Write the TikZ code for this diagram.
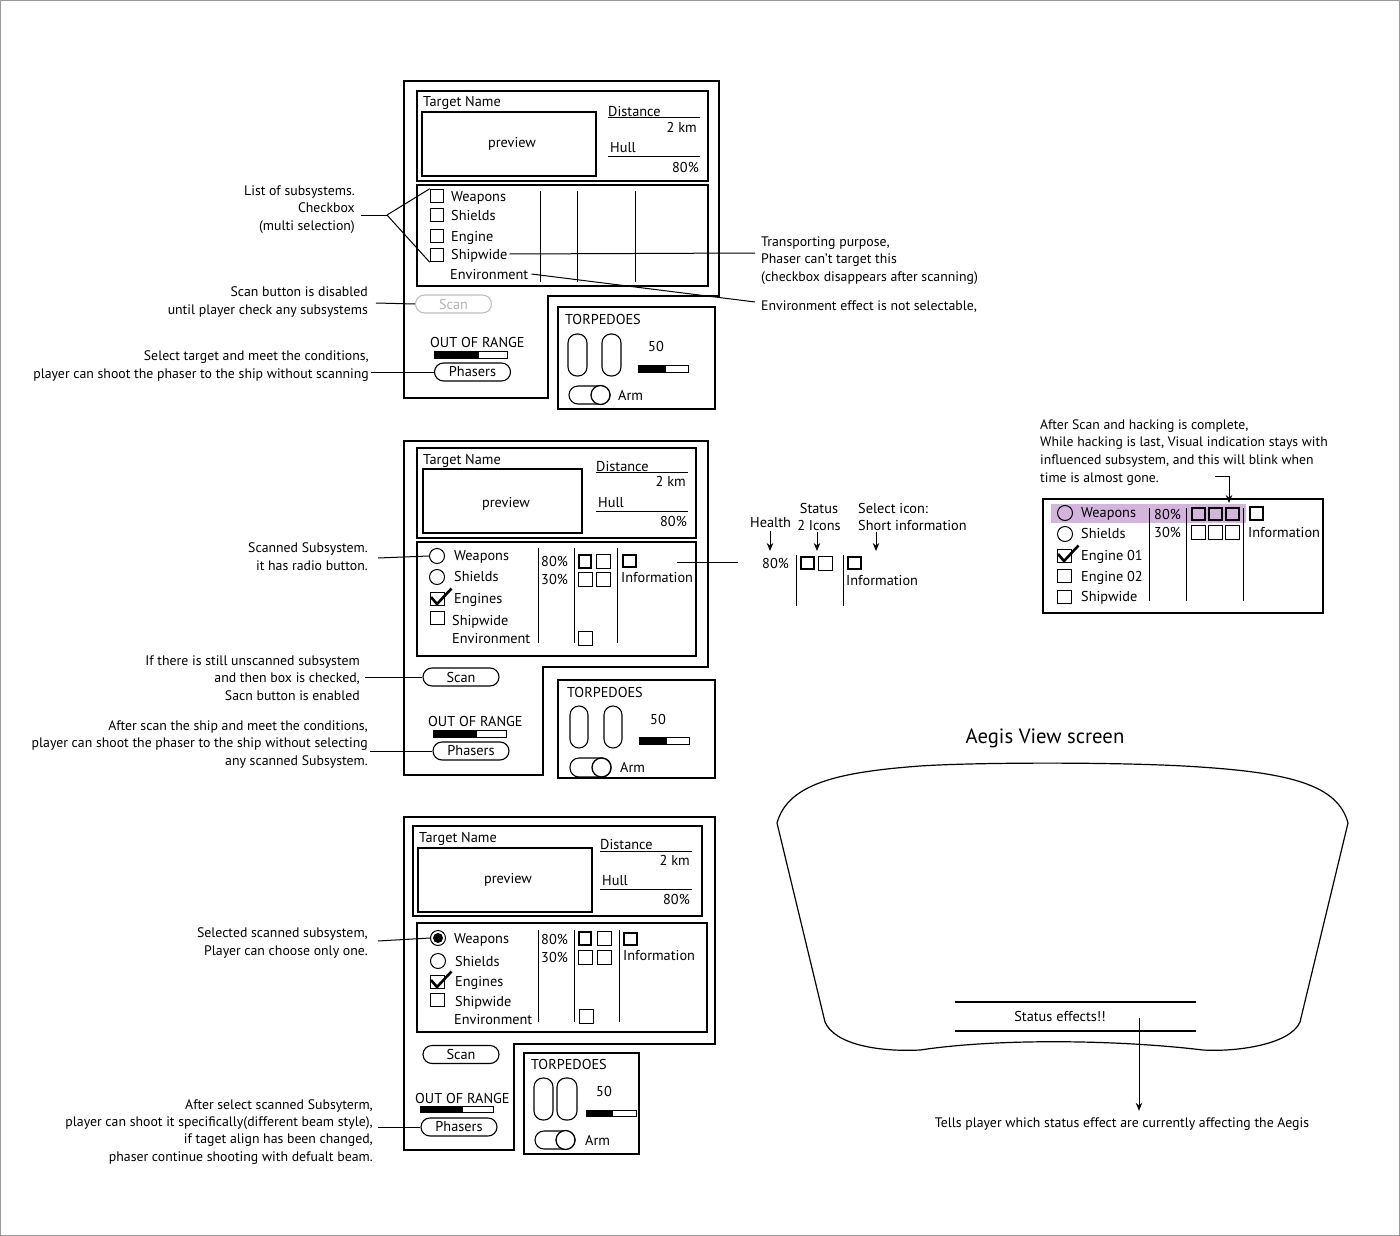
\documentclass[tikz,border=0pt]{standalone}
\usepackage{fontspec}
\setmainfont{PT Sans}
\usetikzlibrary{shapes.misc,arrows.meta}
\definecolor{hack}{RGB}{212,180,220}
\newcommand\gbar[5]{\fill (#1,#2) rectangle (#5,#4); \draw[line width=0.8pt] (#1,#2) rectangle (#3,#4);}
\newcommand\chk[2]{\draw[line width=2.6pt, shift={(#1,#2)}] (-6.5,-2) -- (-0.5,5) -- (14,-10.5);}
\newcommand\tslot[4]{\draw[line width=1.1pt, rounded corners=9pt] (#1,#2) rectangle (#3,#4);}
\newcommand\tgl[4]{\draw[rounded corners=9pt, line width=1.1pt] (#1,#2) rectangle (#3,#4);
  \draw[line width=1.3pt, fill=white] ({#3-9.5},{(#2+#4)/2}) circle (9.5);}
\begin{document}
\begin{tikzpicture}[x=1pt,y=-1pt,
  frame/.style={draw, line width=1.5pt},
  box/.style={draw, line width=1.2pt},
  conn/.style={line width=1pt},
  txt/.style={inner sep=0pt, font=\fontsize{14.3}{17}\selectfont, text height=10pt, text depth=0pt, anchor=west},
  note/.style={inner sep=0pt, font=\fontsize{13.8}{17.2}\selectfont, align=right, anchor=base east},
  cb/.style={draw, line width=1pt, rectangle, minimum size=13.5pt, inner sep=0pt},
  rb/.style={draw, line width=1pt, circle, minimum size=15pt, inner sep=0pt},
  sq/.style={draw, line width=1pt, minimum size=14pt, inner sep=0pt},
  tsq/.style={draw, line width=2.4pt, minimum size=12.5pt, inner sep=0pt},
  pillbtn/.style={draw, rounded rectangle, line width=1.1pt, minimum height=18pt, minimum width=76pt, inner sep=0pt, font=\fontsize{14.3}{15}\selectfont},
  arr/.style={line width=1pt, -{Stealth[length=8pt,width=6.5pt]}}
]
\useasboundingbox (0,0) rectangle (1400,1236);
\draw[line width=1.2pt, black!40] (0.8,0.8) rectangle (1399.2,1235.2);

%% ================= PANEL 1 =================
\draw[frame] (404,81) -- (719,81) -- (719,296) -- (548,296) -- (548,398) -- (404,398) -- cycle;
\draw[box] (417,91) rectangle (708,181);
\draw[box] (422,112) rectangle (596,176);
\node[txt, anchor=center] (pv1) at (512,142) {preview};
\node[txt] (tn1) at (423,102) {Target Name};
\node[txt] (di1) at (608,112) {Distance};
\draw[line width=1pt] (608,118) -- (700,118);
\node[txt, anchor=east] (km1) at (697,127) {2 km};
\node[txt] (hu1) at (610,148) {Hull};
\draw[line width=1pt] (608,157) -- (700,157);
\node[txt, anchor=east] (hp1) at (699,167) {80\%};
\draw[box] (417,185) rectangle (708,286);
\foreach \xx in {540,577,635} \draw[line width=1pt] (\xx,191) -- (\xx,282);
\node[cb] (c1a) at (437,196) {};
\node[cb] (c1b) at (437,215) {};
\node[cb] (c1c) at (437,236) {};
\node[cb] (c1d) at (437,255) {};
\node[txt] (w1) at (451,196) {Weapons};
\node[txt] (s1) at (451,215) {Shields};
\node[txt] (e1) at (451,236) {Engine};
\node[txt] (sw1) at (451,254) {Shipwide};
\node[txt] (en1) at (450,274) {Environment};
\node[pillbtn, draw=black!25, text=black!30] (scan1) at (453.5,304) {Scan};
\node[txt] (oor1) at (430,342) {OUT OF RANGE};
\gbar{434}{351}{507}{358}{479}
\node[pillbtn] (ph1) at (472.5,372) {Phasers};
\draw[box] (558,307) rectangle (715,409);
\node[txt] (tp1) at (565,319) {TORPEDOES};
\tslot{568}{334}{587}{376}
\tslot{602}{334}{621}{376}
\node[txt] (f1) at (648,346) {50};
\gbar{638}{365}{688}{372}{666}
\tgl{569}{386}{610}{404}
\node[txt] (a1) at (618,395) {Arm};

\node[note] (n1) at (355,230) {List of subsystems.\\Checkbox\\(multi selection)};
\coordinate (k1) at (387,215);
\draw[conn] (361,215) -- (k1);
\draw[conn] (k1) -- (c1a.north west);
\draw[conn] (k1) -- (c1d.south west);
\node[note] (n2) at (368,314) {Scan button is disabled\\until player check any subsystems};
\draw[conn] (376,303) -- (scan1.west);
\node[note] (n3) at (369,378) {Select target and meet the conditions,\\player can shoot the phaser to the ship without scanning};
\draw[conn] (371,372) -- (ph1.west);
\node[note, align=left, anchor=base west] (n4) at (761,281) {Transporting purpose,\\Phaser can’t target this\\(checkbox disappears after scanning)};
\coordinate (k2) at (755,253);
\draw[conn] ([xshift=2pt]sw1.east) -- (k2);
\node[txt, font=\fontsize{13.8}{17}\selectfont] (n5) at (761,305) {Environment effect is not selectable,};
\coordinate (k3) at (755,302);
\draw[conn] ([xshift=3pt]en1.east) -- (k3);

%% ================= PANEL 2 =================
\draw[frame] (404,441) -- (708,441) -- (708,667) -- (543,667) -- (543,775) -- (404,775) -- cycle;
\draw[box] (417,448) rectangle (696,538);
\draw[box] (423,469) rectangle (582,533);
\node[txt, anchor=center] (pv2) at (506,502) {preview};
\node[txt] (tn2) at (423,459) {Target Name};
\node[txt] (di2) at (596,466) {Distance};
\draw[line width=1pt] (596,472) -- (688,472);
\node[txt, anchor=east] (km2) at (686,481) {2 km};
\node[txt] (hu2) at (598,502) {Hull};
\draw[line width=1pt] (596,511) -- (688,511);
\node[txt, anchor=east] (hp2) at (687,521) {80\%};
\draw[box] (417,542) rectangle (696,656);
\foreach \xx in {538,574,617} \draw[line width=1pt] (\xx,548) -- (\xx,643);
\node[rb] (r2a) at (437,556) {};
\node[rb] (r2b) at (437,577) {};
\node[cb] (c2c) at (437.5,599) {};
\chk{437.5}{599}
\node[cb] (c2d) at (437.5,618) {};
\node[txt] (w2) at (454,555) {Weapons};
\node[txt] (s2) at (454,576) {Shields};
\node[txt] (e2) at (454,598) {Engines};
\node[txt] (sw2) at (452,620) {Shipwide};
\node[txt] (en2) at (452,638) {Environment};
\node[txt] (h2a) at (541,561) {80\%};
\node[txt] (h2b) at (541,579) {30\%};
\node[tsq] (q2a) at (585,561.5) {};
\node[sq] (q2b) at (603,561.5) {};
\node[sq] (q2c) at (585,579.5) {};
\node[sq] (q2d) at (603,579.5) {};
\node[sq] (q2e) at (585,638) {};
\node[tsq] (i2) at (629.5,561) {};
\node[txt] (inf2) at (621,577) {Information};
\node[pillbtn] (scan2) at (461,677) {Scan};
\node[txt] (oor2) at (428,721) {OUT OF RANGE};
\gbar{433}{730}{506}{737}{477}
\node[pillbtn] (ph2) at (471,751) {Phasers};
\draw[box] (558,680) rectangle (715,778);
\node[txt] (tp2) at (567,692) {TORPEDOES};
\tslot{570}{706}{588}{748}
\tslot{604}{706}{622}{748}
\node[txt] (f2) at (650,719) {50};
\gbar{639}{737}{689}{744}{667}
\tgl{570}{758}{611}{777}
\node[txt] (a2) at (620,767) {Arm};

\node[note] (n6) at (368,570) {Scanned Subsystem.\\it has radio button.};
\draw[conn] (378,558) -- (r2a.west);
\node[note] (n7) at (360,700) {If there is still unscanned subsystem\\and then box is checked,\\Sacn button is enabled};
\draw[conn] (365,677) -- (scan2.west);
\node[note] (n8) at (368,765) {After scan the ship and meet the conditions,\\player can shoot the phaser to the ship without selecting\\any scanned Subsystem.};
\draw[conn] (370,751) -- (ph2.west);

%% detail
\coordinate (k4) at (677,562);
\coordinate (k5) at (738,562);
\draw[conn] (k4) -- (k5);
\node[txt] (hl) at (750,522) {Health};
\node[txt, anchor=center, align=center, text height=, font=\fontsize{14.3}{17}\selectfont] (st) at (819,516.5) {Status\\2 Icons};
\node[txt, align=left, text height=, anchor=base west, font=\fontsize{14.3}{17}\selectfont] (si) at (858,530) {Select icon:\\Short information};
\coordinate (d1a) at (770,531); \coordinate (d1b) at (770,551);
\coordinate (d2a) at (817,532); \coordinate (d2b) at (817,551);
\coordinate (d3a) at (876,532); \coordinate (d3b) at (876,551);
\draw[arr] (d1a) -- (d1b);
\draw[arr] (d2a) -- (d2b);
\draw[arr] (d3a) -- (d3b);
\node[txt] (dh) at (762,563) {80\%};
\draw[line width=1pt] (796,555) -- (796,606);
\draw[line width=1pt] (843,555) -- (843,606);
\node[tsq] (dq1) at (807.5,563) {};
\node[sq] (dq2) at (825.5,563) {};
\node[tsq] (dq3) at (854.5,563) {};
\node[txt] (dinf) at (846,580) {Information};

%% hacking panel
\node[txt, align=left, text height=, anchor=base west, font=\fontsize{13.7}{17.6}\selectfont] (hk) at (1040,482) {After Scan and hacking is complete,\\While hacking is last, Visual indication stays with\\influenced subsystem, and this will blink when\\time is almost gone.};
\coordinate (hka) at (1215,476);
\coordinate (hkb) at (1229,476);
\coordinate (hkc) at (1229,503);
\draw[arr] (hka) -- (hkb) -- (hkc);
\fill[hack] (1051,504) rectangle (1246,523);
\draw[box] (1043,499) rectangle (1323,613);
\node[rb] (hr1) at (1065,513) {};
\node[rb] (hr2) at (1065,534) {};
\node[cb] (hc1) at (1064.5,556) {};
\chk{1064.5}{556}
\node[cb] (hc2) at (1064.5,576) {};
\node[cb] (hc3) at (1064.5,597) {};
\node[txt] (hw) at (1081,512) {Weapons};
\node[txt] (hs) at (1081,533) {Shields};
\node[txt] (he1) at (1081,555) {Engine 01};
\node[txt] (he2) at (1081,576) {Engine 02};
\node[txt] (hsw) at (1081,596) {Shipwide};
\foreach \xx in {1149,1186,1243} \draw[line width=1pt] (\xx,508) -- (\xx,601);
\node[txt] (hh1) at (1154,514) {80\%};
\node[txt] (hh2) at (1154,532) {30\%};
\node[tsq, fill=hack] (hq1) at (1198.5,514) {};
\node[tsq, fill=hack] (hq2) at (1215.5,514) {};
\node[tsq, fill=hack] (hq3) at (1232.5,514) {};
\node[sq] (hq4) at (1198.5,532) {};
\node[sq] (hq5) at (1215.5,532) {};
\node[sq] (hq6) at (1232.5,532) {};
\node[tsq] (hqi) at (1256.5,513.5) {};
\node[txt] (hinf) at (1248,532) {Information};

%% ================= PANEL 3 =================
\draw[frame] (404,817) -- (715,817) -- (715,1044) -- (514,1044) -- (514,1150) -- (404,1150) -- cycle;
\draw[box] (413,826) rectangle (702,916);
\draw[box] (418,848) rectangle (592,912);
\node[txt, anchor=center] (pv3) at (508,878) {preview};
\node[txt] (tn3) at (419,837) {Target Name};
\node[txt] (di3) at (600,844) {Distance};
\draw[line width=1pt] (600,851) -- (692,851);
\node[txt, anchor=east] (km3) at (690,860) {2 km};
\node[txt] (hu3) at (602,880) {Hull};
\draw[line width=1pt] (600,889) -- (692,889);
\node[txt, anchor=east] (hp3) at (690,899) {80\%};
\draw[box] (417,923) rectangle (707,1032);
\foreach \xx in {538,574,619} \draw[line width=1pt] (\xx,930) -- (\xx,1022);
\node[rb] (r3a) at (438,938) {};
\fill (438,938) circle (5);
\node[rb] (r3b) at (438,961) {};
\node[cb] (c3c) at (437.5,982) {};
\chk{437.5}{982}
\node[cb] (c3d) at (437.5,1000) {};
\node[txt] (w3) at (454,938) {Weapons};
\node[txt] (s3) at (455,961) {Shields};
\node[txt] (e3) at (455,981) {Engines};
\node[txt] (sw3) at (455,1001) {Shipwide};
\node[txt] (en3) at (454,1019) {Environment};
\node[txt] (h3a) at (541,939) {80\%};
\node[txt] (h3b) at (541,957) {30\%};
\node[tsq] (q3a) at (585,938.5) {};
\node[sq] (q3b) at (604.5,938.5) {};
\node[sq] (q3c) at (585,957) {};
\node[sq] (q3d) at (604.5,957) {};
\node[sq] (q3e) at (586,1016.5) {};
\node[tsq] (i3) at (630.5,939) {};
\node[txt] (inf3) at (623,955) {Information};
\node[pillbtn] (scan3) at (461,1054.5) {Scan};
\node[txt] (oor3) at (415,1098) {OUT OF RANGE};
\gbar{420}{1106}{493}{1112}{463}
\node[pillbtn] (ph3) at (459,1127) {Phasers};
\draw[box] (524,1053) rectangle (639,1154);
\node[txt] (tp3) at (531,1064) {TORPEDOES};
\tslot{534}{1078}{553}{1120}
\tslot{557}{1078}{577}{1120}
\node[txt] (f3) at (596,1091) {50};
\gbar{586}{1110}{636}{1116}{613}
\tgl{535}{1131}{575}{1149}
\node[txt] (a3) at (585,1140) {Arm};

\node[note] (n9) at (368,955) {Selected scanned subsystem,\\Player can choose only one.};
\draw[conn] (378,941) -- (r3a.west);
\node[note] (n10) at (373,1161) {After select scanned Subsyterm,\\player can shoot it specifically(different beam style),\\if taget align has been changed,\\phaser continue shooting with defualt beam.};
\draw[conn] (378,1127) -- (ph3.west);

%% ================= AEGIS =================
\node[inner sep=0pt, font=\fontsize{20.7}{24}\selectfont] (ag) at (1045,738) {Aegis View screen};
\draw[line width=1.2pt] (777,823) .. controls (788,783) and (840,772) .. (920,766)
  .. controls (980,762) and (1130,762) .. (1200,767)
  .. controls (1290,773) and (1338,785) .. (1348,823)
  -- (1300,1022) .. controls (1290,1045) and (1235,1052) .. (1203,1050)
  .. controls (1120,1040) and (1000,1038) .. (920,1050)
  .. controls (880,1052) and (835,1045) .. (825,1022) -- cycle;
\draw[line width=1.2pt] (955,1002) -- (1196,1002);
\draw[line width=1.2pt] (955,1031) -- (1196,1031);
\node[txt, anchor=center] (se) at (1060,1016) {Status effects!!};
\coordinate (sa) at (1139,1018);
\node[inner sep=0pt, font=\fontsize{13.8}{15}\selectfont, text height=10pt, text depth=0pt] (tl) at (1122,1122) {Tells player which status effect are currently affecting the Aegis};
\draw[arr] (sa) -- ([yshift=6pt]tl.north -| sa);
\end{tikzpicture}
\end{document}
